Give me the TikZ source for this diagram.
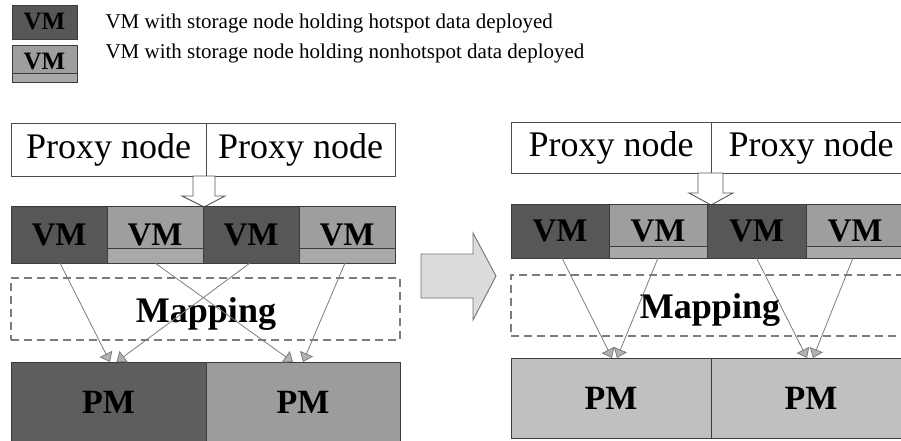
\documentclass[tikz,border=0pt]{standalone}
\usepackage{fontspec}
\setmainfont{Liberation Serif}
\usetikzlibrary{arrows.meta}
\definecolor{vmdark}{HTML}{575757}
\definecolor{vmlight}{HTML}{9E9E9E}
\definecolor{vmstrip}{HTML}{A9A9A9}
\definecolor{pmdark}{HTML}{5E5E5E}
\definecolor{pmmid}{HTML}{9C9C9C}
\definecolor{pmlight}{HTML}{C0C0C0}
\definecolor{edgegray}{HTML}{3C3C3C}
\definecolor{linkgray}{HTML}{7C7C7C}
\definecolor{bigarrow}{HTML}{DCDCDC}
\begin{document}
\begin{tikzpicture}[x=1pt,y=-1pt,
  cell/.style={rectangle, anchor=north west, inner sep=0pt, outer sep=0pt},
  proxybox/.style={cell, draw=black!70, line width=0.9pt, fill=white,
    font=\fontsize{36}{36}\selectfont},
  hotvm/.style={cell, draw=edgegray, line width=0.9pt, fill=vmdark,
    font=\bfseries\fontsize{33}{33}\selectfont},
  coldvm/.style={cell, draw=edgegray, line width=0.9pt, fill=vmlight,
    font=\bfseries\fontsize{33}{33}\selectfont},
  strip/.style={draw=edgegray, line width=0.9pt, fill=vmstrip},
  mapbox/.style={cell, draw=linkgray, line width=1.4pt, dash pattern=on 8pt off 5pt},
  maptext/.style={anchor=base, font=\bfseries\fontsize{36}{36}\selectfont},
  pmbox/.style={cell, draw=edgegray, line width=0.9pt,
    font=\bfseries\fontsize{34}{34}\selectfont},
  hollow/.style={draw=black!65, line width=0.9pt, fill=white, line join=miter},
  link/.style={draw=linkgray, line width=0.8pt,
    -{Triangle[width=14pt,length=9pt,fill=gray!60]}},
  legendtext/.style={anchor=base west, font=\fontsize{21}{21}\selectfont},
  legendvm/.style={cell, draw=edgegray, line width=0.9pt,
    font=\bfseries\fontsize{25}{25}\selectfont, minimum width=65pt}
]
\useasboundingbox (0,0) rectangle (901,441);

% ---------- legend ----------
\node[legendvm, fill=vmdark, minimum height=34pt] (lg-hot) at (12,5) {VM};
\node[legendvm, fill=vmlight, minimum height=37pt] (lg-cold) at (12,45) {};
\draw[strip] ([yshift=9pt]lg-cold.south west) rectangle (lg-cold.south east);
\node[font=\bfseries\fontsize{25}{25}\selectfont] at ([yshift=2pt]lg-cold.center) {VM};
\node[legendtext] (lg-hot-t) at (102,29) {VM with storage node holding hotspot data deployed};
\node[legendtext] (lg-cold-t) at (102,59) {VM with storage node holding nonhotspot data deployed};

% ---------- left configuration ----------
\node[proxybox, minimum width=195pt, minimum height=53pt] (l-px1) at (11,123) {Proxy node};
\node[proxybox, minimum width=189pt, minimum height=53pt] (l-px2) at (206,123) {Proxy node};

\draw[hollow] ([xshift=-13pt]l-px1.south east) -- ++(0,20) -- ++(-11,0)
  -- ++(22,11) -- ++(21,-11) -- ++(-10,0) -- ++(0,-20) -- cycle;

\node[hotvm,  minimum width=96pt, minimum height=57pt] (l-vm1) at (11,206) {VM};
\node[coldvm, minimum width=96pt, minimum height=57pt] (l-vm2) at (107,206) {VM};
\node[hotvm,  minimum width=96pt, minimum height=57pt] (l-vm3) at (203,206) {VM};
\node[coldvm, minimum width=96pt, minimum height=57pt] (l-vm4) at (299,206) {VM};
\draw[strip] ([yshift=15pt]l-vm2.south west) rectangle (l-vm2.south east);
\draw[strip] ([yshift=15pt]l-vm4.south west) rectangle (l-vm4.south east);

\node[mapbox, minimum width=389pt, minimum height=62pt] (l-map) at (11,278) {};
\node[maptext] (l-map-t) at (206,322) {Mapping};

\node[pmbox, fill=pmdark, minimum width=195pt, minimum height=80pt] (l-pm1) at (11,362) {PM};
\node[pmbox, fill=pmmid,  minimum width=194pt, minimum height=80pt] (l-pm2) at (206,362) {PM};

\draw[link] ([xshift=1pt]l-vm1.south)  -- ([xshift=1.5pt]l-pm1.north);
\draw[link] (l-vm2.south)               -- ([xshift=-10pt]l-pm2.north);
\draw[link] ([xshift=-1pt]l-vm3.south) -- ([xshift=8pt]l-pm1.north);
\draw[link] ([xshift=-2pt]l-vm4.south) -- (l-pm2.north);

% ---------- transition arrow ----------
\draw[draw=black!55, line width=0.9pt, fill=bigarrow, line join=miter]
  (421,254) -- (473,254) -- (473,233) -- (496,276) -- (473,320) -- (473,298)
  -- (421,298) -- cycle;

% ---------- right configuration ----------
\node[proxybox, minimum width=200pt, minimum height=51pt] (r-px1) at (511,122) {Proxy node};
\node[proxybox, minimum width=200pt, minimum height=51pt] (r-px2) at (711,122) {Proxy node};

\draw[hollow] ([xshift=-13pt]r-px1.south east) -- ++(0,20) -- ++(-9,0)
  -- ++(22,12) -- ++(22,-12) -- ++(-10,0) -- ++(0,-20) -- cycle;

\node[hotvm,  minimum width=98pt, minimum height=54pt] (r-vm1) at (511,204) {VM};
\node[coldvm, minimum width=98pt, minimum height=54pt] (r-vm2) at (609,204) {VM};
\node[hotvm,  minimum width=99pt, minimum height=54pt] (r-vm3) at (707,204) {VM};
\node[coldvm, minimum width=98pt, minimum height=54pt] (r-vm4) at (806,204) {VM};
\draw[strip] ([yshift=12pt]r-vm2.south west) rectangle (r-vm2.south east);
\draw[strip] ([yshift=12pt]r-vm4.south west) rectangle (r-vm4.south east);

\node[mapbox, minimum width=400pt, minimum height=61pt] (r-map) at (511,275) {};
\node[maptext] (r-map-t) at (710,318) {Mapping};

\node[pmbox, fill=pmlight, minimum width=200pt, minimum height=80pt] (r-pm1) at (511,358) {PM};
\node[pmbox, fill=pmlight, minimum width=200pt, minimum height=80pt] (r-pm2) at (711,358) {PM};

\draw[link] ([xshift=2pt]r-vm1.south)  -- ([xshift=1pt]r-pm1.north);
\draw[link] (r-vm2.south)               -- ([xshift=6pt]r-pm1.north);
\draw[link] (r-vm3.south)               -- ([xshift=-4pt]r-pm2.north);
\draw[link] ([xshift=-2pt]r-vm4.south) -- ([xshift=2pt]r-pm2.north);
\end{tikzpicture}
\end{document}
